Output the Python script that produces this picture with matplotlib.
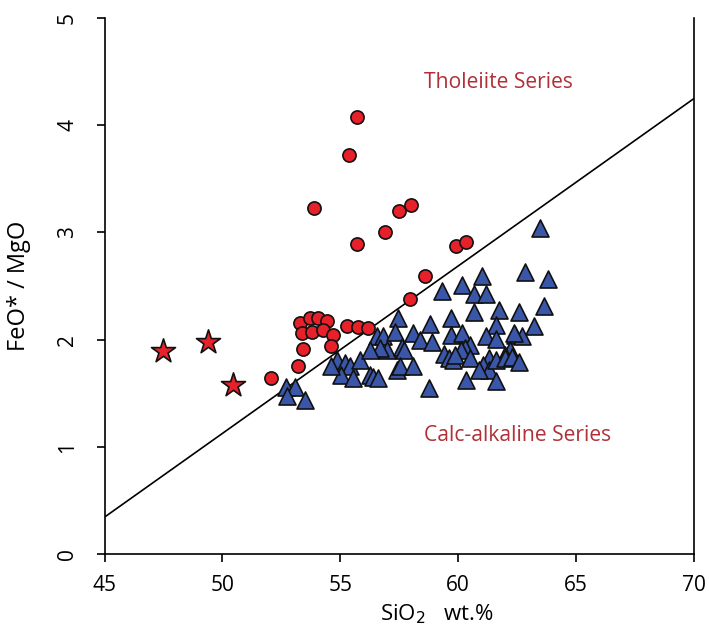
import numpy as np
import matplotlib as mtp
mtp.use('Agg')
import matplotlib.pyplot as plt

plt.rcParams['font.family'] = ['Open Sans', 'DejaVu Sans']

# tholeiite samples (red circles)
tho_x = [55.72, 55.37, 53.88, 55.72, 56.9, 57.5, 58.0, 59.9, 60.35, 58.6, 57.96,
         52.05, 53.21, 53.41, 53.29, 53.36, 53.71, 54.05, 54.42, 53.8, 54.27,
         54.68, 54.6, 55.27, 55.75, 56.16]
tho_y = [4.08, 3.72, 3.23, 2.89, 3.0, 3.2, 3.26, 2.87, 2.91, 2.59, 2.38,
         1.645, 1.75, 1.91, 2.155, 2.06, 2.2, 2.2, 2.17, 2.07, 2.09,
         2.04, 1.94, 2.13, 2.12, 2.105]

# basalts (red stars)
star_x = [47.5, 49.4, 50.45]
star_y = [1.89, 1.98, 1.58]

# calc-alkaline samples (blue triangles)
ca_x = [52.7, 53.1, 52.75, 53.5,
        54.85, 55.2, 55.4, 55.85, 55.05, 55.55, 54.6, 56.25, 56.4, 56.6,
        56.55, 56.8, 57.0, 56.7, 56.25, 57.4, 57.45, 57.3, 57.6, 57.7,
        57.55, 58.1, 58.1, 58.4, 58.9, 58.8, 58.75,
        59.3, 60.15, 61.0, 60.65, 61.2, 60.65, 61.75, 59.7, 61.6, 62.4,
        59.7, 60.15, 61.2, 61.6, 60.5, 60.3, 60.1, 62.2, 62.0, 59.4,
        59.6, 59.8, 59.85, 60.5, 61.3, 61.05, 61.3, 60.9, 61.6, 62.0,
        60.35, 61.6, 62.3,
        63.45, 62.85, 63.8, 62.6, 63.65, 63.2, 62.7, 62.35, 62.6]
ca_y = [1.56, 1.56, 1.47, 1.44,
        1.81, 1.78, 1.75, 1.81, 1.67, 1.64, 1.75, 1.67, 1.65, 1.64,
        2.03, 2.03, 1.9, 1.92, 1.9, 1.72, 2.2, 2.07, 1.93, 1.9,
        1.75, 1.75, 2.06, 2.0, 1.98, 2.15, 1.55,
        2.45, 2.51, 2.59, 2.43, 2.43, 2.26, 2.28, 2.2, 2.14, 2.04,
        2.04, 2.06, 2.03, 2.01, 1.95, 1.92, 1.9, 1.9, 1.86, 1.87,
        1.83, 1.81, 1.86, 1.83, 1.83, 1.76, 1.72, 1.72, 1.81, 1.83,
        1.62, 1.61, 1.84,
        3.04, 2.63, 2.57, 2.26, 2.31, 2.13, 2.03, 2.06, 1.79]

# Miyashiro (1974) boundary
line_x = [45, 70]
line_y = [0.1562 * v - 6.685 for v in line_x]

fig = plt.figure(figsize=(7.09, 6.28), dpi=100)
ax = fig.add_axes([0.1474, 0.1178, 0.8314, 0.8535])

ax.plot(line_x, line_y, color='black', lw=1.2, zorder=1)
ax.scatter(ca_x, ca_y, marker='^', s=150, color='#3a56a8', edgecolors='#111111',
           linewidths=1.2, zorder=2)
ax.scatter(tho_x, tho_y, marker='o', s=90, color='#e8202a', edgecolors='#111111',
           linewidths=1.2, zorder=3)
ax.scatter(star_x, star_y, marker='*', s=330, color='#e8202a', edgecolors='#111111',
           linewidths=1.2, zorder=3)

ax.text(61.7, 4.40, 'Tholeiite Series', color='#b03038', fontsize=15.2,
        ha='center', va='center')
ax.text(62.5, 1.11, 'Calc-alkaline Series', color='#b03038', fontsize=15.2,
        ha='center', va='center')

ax.set_xlim(45, 70)
ax.set_ylim(0, 5)
ax.set_xticks([45, 50, 55, 60, 65, 70])
ax.set_yticks([0, 1, 2, 3, 4, 5])
ax.spines['top'].set_visible(False)
for s in ['left', 'bottom', 'right']:
    ax.spines[s].set_linewidth(1.2)
ax.tick_params(direction='out', length=6, width=1.2, labelsize=15)
ax.tick_params(axis='x', pad=9)
ax.tick_params(axis='y', pad=13, labelrotation=90)
for t in ax.get_yticklabels():
    t.set_va('center')
ax.set_xlabel('SiO$_2$   wt.%', fontsize=16)
ax.xaxis.set_label_coords(0.564, -0.09)
ax.set_ylabel('FeO* / MgO', fontsize=17)
ax.yaxis.set_label_coords(-0.125, 0.5)

fig.savefig('out.png', dpi=100)
